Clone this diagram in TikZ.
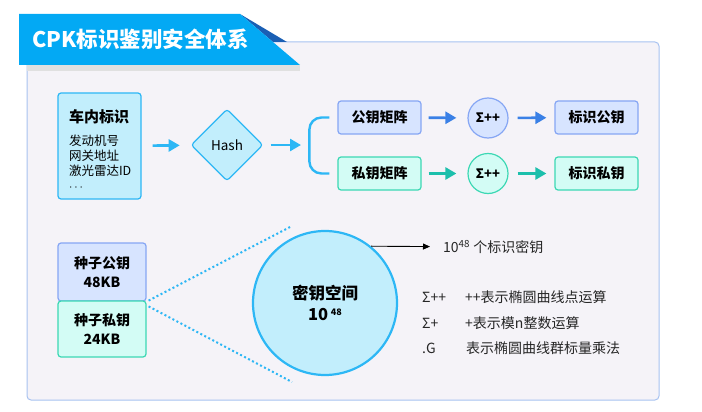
\documentclass[tikz,border=0pt]{standalone}
\usepackage{fontspec}
\setmainfont{Noto Sans CJK SC}
\usepackage{tikz}
\usetikzlibrary{arrows.meta,shapes.geometric}

\definecolor{panelbg}{HTML}{F5F3F8}
\definecolor{panelline}{HTML}{A8C2F0}
\definecolor{banner}{HTML}{03A9F4}
\definecolor{bannerdark}{HTML}{1A5FB4}
\definecolor{cyanfill}{HTML}{C2EEFC}
\definecolor{cyanline}{HTML}{2DB7F5}
\definecolor{bluefill}{HTML}{D7E4FF}
\definecolor{blueline}{HTML}{86A6F4}
\definecolor{bluearrow}{HTML}{3A80E6}
\definecolor{tealfill}{HTML}{D3FCF5}
\definecolor{tealline}{HTML}{3CD8B4}
\definecolor{tealarrow}{HTML}{1CBFAC}

\newcommand{\fsz}[2]{\fontsize{#1}{#2}\selectfont}

\begin{document}
\begin{tikzpicture}[x=1pt,y=-1pt,
    cyanbox/.style={draw=cyanline,fill=cyanfill},
    bluebox/.style={draw=blueline,fill=bluefill},
    tealbox/.style={draw=tealline,fill=tealfill},
    keybox/.style={minimum width=83pt,minimum height=33pt,font=\fsz{14}{17}\bfseries},
    sumnode/.style={circle,minimum size=40pt,font=\fsz{13}{15}\bfseries},
    seedbox/.style={minimum width=88pt,font=\fsz{14}{19}\bfseries}]
\useasboundingbox (0,0) rectangle (702,412);

% panel and title banner
\draw[panelline,fill=panelbg,rounded corners=4pt,line width=1pt] (27,42) rectangle (659,400);
\fill[black!12] (27,65) rectangle (300,71);
\fill[bannerdark] (240,14) -- (287,42) -- (273,42) -- cycle;
\fill[banner] (19,14) -- (240,14) -- (300,65) -- (19,65) -- cycle;
\node[anchor=west,text=white,font=\fsz{21.5}{25}\bfseries] (title) at (29,39) {CPK标识鉴别安全体系};

\begin{scope}[every node/.style={rounded corners=3pt,line width=1.2pt,inner sep=0pt,align=center}]
    \node[cyanbox,align=left,minimum width=83pt,minimum height=106pt,text width=61pt] (carid) at (99.5,146)
        {{\fsz{15}{18}\bfseries\rule{0pt}{21pt}车内标识}\\[8pt]
         \fsz{12.5}{15}发动机号\\网关地址\\激光雷达ID\\$\cdots$\par};
    \node[cyanbox,diamond,aspect=1,minimum size=72pt,font=\fsz{13.5}{15}] (hash) at (227,145) {Hash};

    \node[bluebox,keybox] (pubmat) at (379.5,117.5) {公钥矩阵};
    \node[bluebox,sumnode] (pubsum) at (488,118) {Σ++};
    \node[bluebox,keybox] (pubkey) at (596.5,117.5) {标识公钥};

    \node[tealbox,keybox] (privmat) at (379.5,173.5) {私钥矩阵};
    \node[tealbox,sumnode] (privsum) at (488,173.5) {Σ++};
    \node[tealbox,keybox] (privkey) at (596.5,173.5) {标识私钥};

    \node[bluebox,seedbox,minimum height=58pt] (seedpub) at (102,272) {种子公钥\\48KB};
    \node[tealbox,seedbox,minimum height=56pt] (seedpriv) at (102,329) {种子私钥\\24KB};

    \node[cyanbox,circle,line width=2.2pt,minimum size=144pt,font=\fsz{16.5}{21}\bfseries] (keyspace) at (325,303)
        {密钥空间\\10\,\raisebox{5pt}{\fsz{9}{9}\bfseries 48}};
\end{scope}

\coordinate (fork) at (310,145);
\coordinate (zoomtop) at (292,226);
\coordinate (zoombot) at (292,382);

% branch bracket and zoom lines
\draw[cyanline,line width=2.4pt,rounded corners=12pt]
    ([xshift=-8pt]pubmat.west) -- ++(-20,0) |- ([xshift=-8pt]privmat.west);
\draw[cyanline,line width=2pt,dash pattern=on 2pt off 2.5pt] ([xshift=2pt,yshift=1pt]seedpub.south east) -- (zoomtop);
\draw[cyanline,line width=2pt,dash pattern=on 2pt off 2.5pt] ([xshift=2pt,yshift=-6pt]seedpriv.north east) -- (zoombot);

\begin{scope}[>={Triangle[length=11pt,width=12pt]},
              every edge/.style={draw,line width=2.6pt}]
    \path [->,cyanline,shorten <=11pt,shorten >=11pt] (carid) edge (hash);
    \path [->,cyanline,shorten <=7pt,shorten >=9pt] (hash) edge (fork);
    \path [->,bluearrow,shorten <=7pt,shorten >=11pt] (pubmat) edge (pubsum);
    \path [->,bluearrow,shorten <=9pt,shorten >=8pt] (pubsum) edge (pubkey);
    \path [->,tealarrow,shorten <=7pt,shorten >=11pt] (privmat) edge (privsum);
    \path [->,tealarrow,shorten <=9pt,shorten >=8pt] (privsum) edge (privkey);
\end{scope}

% legend
\begin{scope}[every node/.style={anchor=west,inner sep=0pt,text=black!85,font=\fsz{14}{16}}]
    \node (cntlbl) at (443,247) {10\textsuperscript{48} 个标识密钥};
    \node (sym1) at (422,297) {Σ++};
    \node (desc1) at (465,297) {++表示椭圆曲线点运算};
    \node (sym2) at (422,323) {Σ+};
    \node (desc2) at (465,323) {+表示模n整数运算};
    \node (sym3) at (422,348) {.G};
    \node (desc3) at (466,348) {表示椭圆曲线群标量乘法};
\end{scope}

\draw[->,>={Triangle[length=7pt,width=6pt]},line width=0.9pt,shorten >=13pt] (keyspace.51) -- (cntlbl);
\end{tikzpicture}
\end{document}
